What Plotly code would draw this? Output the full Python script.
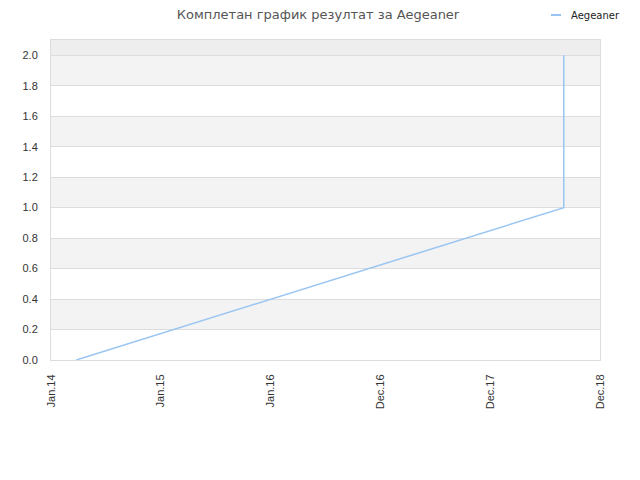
import plotly.graph_objects as go

# Data
tick_labels = ["Jan.14", "Jan.15", "Jan.16", "Dec.16", "Dec.17", "Dec.18"]
tick_positions = [0, 1, 2, 3, 4, 5]
series_name = "Aegeaner"
x_vals = [0.23, 4.67, 4.67]
y_vals = [0.0, 1.0, 2.0]
y_ticks = [0.0, 0.2, 0.4, 0.6, 0.8, 1.0, 1.2, 1.4, 1.6, 1.8, 2.0]

line_color = "#99c5f2"
title_font = "DejaVu Sans, sans-serif"
tick_font = "Liberation Sans, Arial, sans-serif"

# page body has an 8px margin; figure is sized to fit the 640x480 window
W, H = 632, 472
ml, mr, mt, mb = 43, 40, 32, 120
plot_w = W - ml - mr
plot_h = H - mt - mb

fig = go.Figure()
fig.add_trace(go.Scatter(
    x=x_vals, y=y_vals, mode="lines", name=series_name,
    line=dict(color=line_color, width=1.5), showlegend=False,
))

shapes = []
for i in range(1, 10, 2):
    shapes.append(dict(type="rect", xref="paper", yref="y", x0=0, x1=1,
                       y0=y_ticks[i], y1=y_ticks[i + 1], fillcolor="#f3f3f3",
                       line=dict(width=0), layer="below"))
shapes.append(dict(type="rect", xref="paper", yref="y", x0=0, x1=1,
                   y0=2.0, y1=2.1, fillcolor="#eeeeee", line=dict(width=0), layer="below"))

# legend (custom, short line marker)
leg_y = 1.0 + (40 - 15) / plot_h
lx0 = (551 - 8 - ml) / plot_w
lx1 = (561 - 8 - ml) / plot_w
shapes.append(dict(type="line", xref="paper", yref="paper", x0=lx0, x1=lx1,
                   y0=leg_y, y1=leg_y, line=dict(color=line_color, width=2)))

fig.update_layout(
    width=W, height=H,
    margin=dict(l=ml, r=mr, t=mt, b=mb),
    paper_bgcolor="white", plot_bgcolor="white",
    title=dict(text="Комплетан график резултат за Aegeaner", x=(318 - 8) / W, xanchor="center",
               y=1.0 - 2 / H, yanchor="top", pad=dict(t=0),
               font=dict(family=title_font, size=13, color="#555555")),
    shapes=shapes,
    annotations=[dict(text=series_name, xref="paper", yref="paper",
                      x=(569 - 8 - ml) / plot_w, y=leg_y, xanchor="left", yanchor="middle",
                      showarrow=False, font=dict(family=title_font, size=10, color="#222222"))],
    xaxis=dict(range=[0, 5], tickvals=tick_positions, ticktext=tick_labels,
               tickangle=-90, showgrid=False, zeroline=False,
               showline=True, linecolor="#dddddd", mirror=True,
               ticks="", ticklabelstandoff=9,
               tickfont=dict(family=tick_font, size=11, color="#333333")),
    yaxis=dict(range=[0, 2.1], tickvals=y_ticks, ticktext=[f"{v:.1f}" for v in y_ticks],
               showgrid=True, gridcolor="#dddddd", zeroline=False,
               showline=True, linecolor="#dddddd", mirror=True,
               ticks="", ticklabelstandoff=10,
               tickfont=dict(family=tick_font, size=11, color="#333333")),
)

fig.write_html("out.html")
